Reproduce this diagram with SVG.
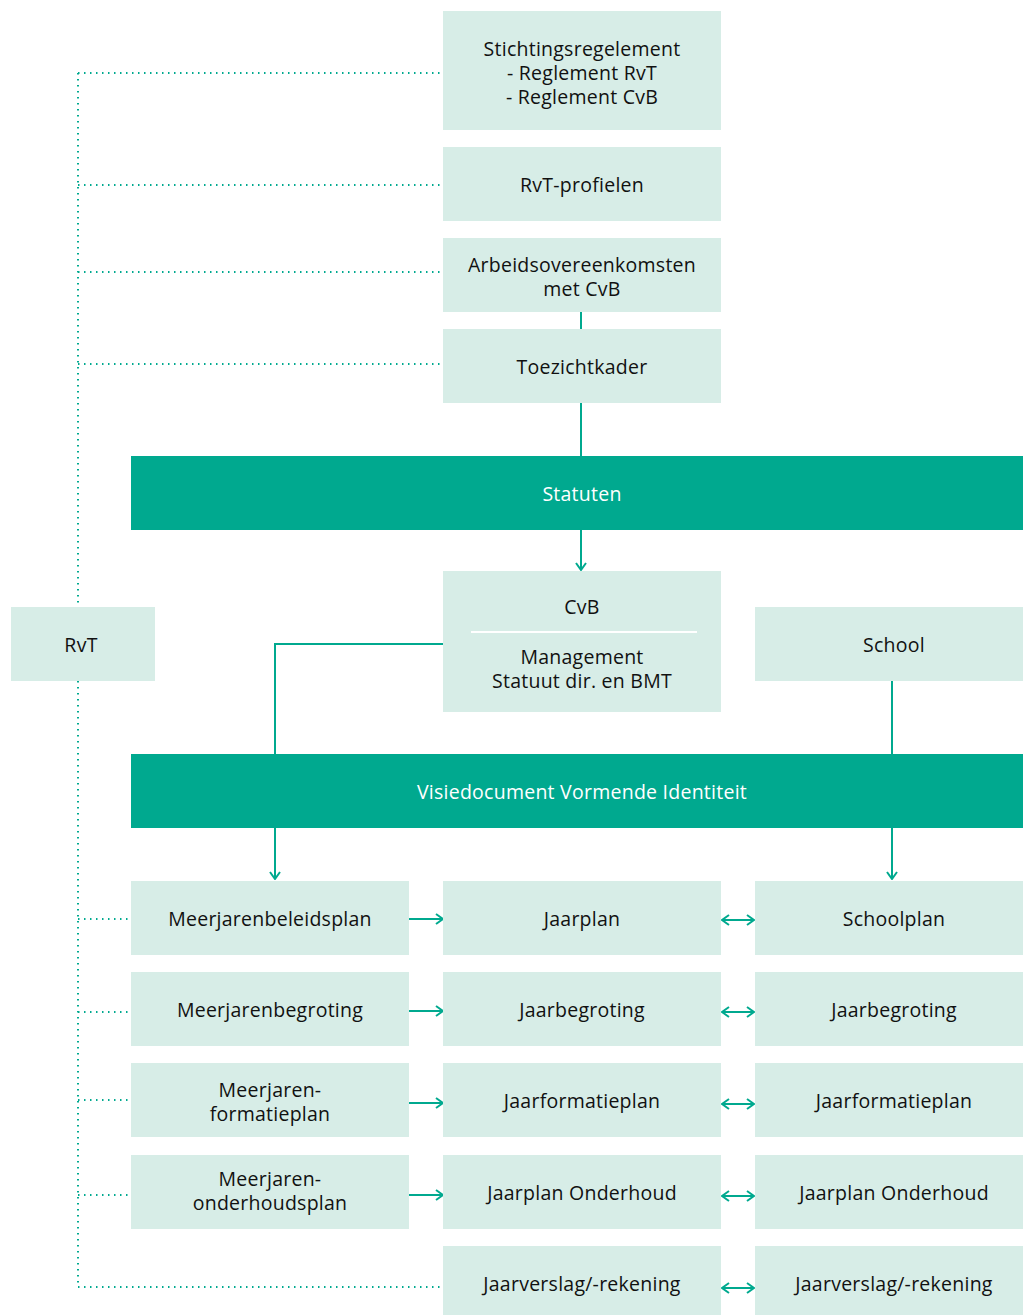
<svg xmlns="http://www.w3.org/2000/svg" width="1023" height="1315" viewBox="0 0 1023 1315">
<defs>
<style>
.box{fill:#d7ede7}
.bar{fill:#00a98f}
text{font-family:"Open Sans",Lato,"Liberation Sans",sans-serif;font-size:19.5px;letter-spacing:0.25px;text-anchor:middle}
.t{fill:#111}
.tw{fill:#fff}
.ln{stroke:#00a98f;stroke-width:2;fill:none}
.dot{stroke:#00a98f;stroke-width:2;fill:none;stroke-dasharray:1.5 4.5}
.ah{stroke:#00a98f;stroke-width:2;fill:none}
</style>
<marker id="arr" viewBox="0 0 10 12" refX="9" refY="6" markerWidth="10" markerHeight="12" markerUnits="userSpaceOnUse" orient="auto-start-reverse">
<path d="M2,1 L9,6 L2,11" class="ah"/>
</marker>
</defs>
<rect width="1023" height="1315" fill="#fff"/>
<g id="connectors">
<path class="dot" d="M78,73 V607 M78,681 V1287 M78,73 H443 M78,185 H443 M78,272 H443 M78,364 H443 M78,919 H131 M78,1012 H131 M78,1100 H131 M78,1195 H131 M78,1287 H443"/>
<path class="ln" d="M581,312 V329 M581,403 V456"/>
<path class="ln" marker-end="url(#arr)" d="M581,530 V570"/>
<path class="ln" d="M443,644 H275 V754"/>
<path class="ln" marker-end="url(#arr)" d="M275,828 V879"/>
<path class="ln" d="M892,681 V754"/>
<path class="ln" marker-end="url(#arr)" d="M892,828 V879"/>
<path class="ln" marker-end="url(#arr)" d="M409,919 H443"/>
<path class="ln" marker-end="url(#arr)" d="M409,1011 H443"/>
<path class="ln" marker-end="url(#arr)" d="M409,1103 H443"/>
<path class="ln" marker-end="url(#arr)" d="M409,1195 H443"/>
<path class="ln" marker-start="url(#arr)" marker-end="url(#arr)" d="M722,920 H754"/>
<path class="ln" marker-start="url(#arr)" marker-end="url(#arr)" d="M722,1012 H754"/>
<path class="ln" marker-start="url(#arr)" marker-end="url(#arr)" d="M722,1104 H754"/>
<path class="ln" marker-start="url(#arr)" marker-end="url(#arr)" d="M722,1196 H754"/>
<path class="ln" marker-start="url(#arr)" marker-end="url(#arr)" d="M722,1288 H754"/>
</g>
<g id="stichtingsregelement"><rect class="box" x="443" y="11" width="278" height="119"/>
<text class="t" x="582" y="56">Stichtingsregelement</text><text class="t" x="582" y="80">- Reglement RvT</text><text class="t" x="582" y="104">- Reglement CvB</text></g>
<g id="rvt-profielen"><rect class="box" x="443" y="147" width="278" height="74"/><text class="t" x="582" y="192">RvT-profielen</text></g>
<g id="arbeidsovereenkomsten"><rect class="box" x="443" y="238" width="278" height="74"/><text class="t" x="582" y="272">Arbeidsovereenkomsten</text><text class="t" x="582" y="296">met CvB</text></g>
<g id="toezichtkader"><rect class="box" x="443" y="329" width="278" height="74"/><text class="t" x="582" y="374">Toezichtkader</text></g>
<g id="statuten"><rect class="bar" x="131" y="456" width="892" height="74"/><text class="tw" x="582" y="501">Statuten</text></g>
<g id="cvb"><rect class="box" x="443" y="571" width="278" height="141"/><text class="t" x="582" y="614">CvB</text>
<line x1="471" y1="632" x2="697" y2="632" stroke="#fff" stroke-width="2"/>
<text class="t" x="582" y="664">Management</text><text class="t" x="582" y="688">Statuut dir. en BMT</text></g>
<g id="rvt"><rect class="box" x="11" y="607" width="144" height="74"/><text class="t" x="81" y="652">RvT</text></g>
<g id="school"><rect class="box" x="755" y="607" width="278" height="74"/><text class="t" x="894" y="652">School</text></g>
<g id="visiedocument"><rect class="bar" x="131" y="754" width="892" height="74"/><text class="tw" x="582" y="799">Visiedocument Vormende Identiteit</text></g>
<g id="meerjarenbeleidsplan"><rect class="box" x="131" y="881" width="278" height="74"/><text class="t" x="270" y="926">Meerjarenbeleidsplan</text></g>
<g id="jaarplan"><rect class="box" x="443" y="881" width="278" height="74"/><text class="t" x="582" y="926">Jaarplan</text></g>
<g id="schoolplan"><rect class="box" x="755" y="881" width="278" height="74"/><text class="t" x="894" y="926">Schoolplan</text></g>
<g id="meerjarenbegroting"><rect class="box" x="131" y="972" width="278" height="74"/><text class="t" x="270" y="1017">Meerjarenbegroting</text></g>
<g id="jaarbegroting"><rect class="box" x="443" y="972" width="278" height="74"/><text class="t" x="582" y="1017">Jaarbegroting</text></g>
<g id="jaarbegroting-school"><rect class="box" x="755" y="972" width="278" height="74"/><text class="t" x="894" y="1017">Jaarbegroting</text></g>
<g id="meerjarenformatieplan"><rect class="box" x="131" y="1063" width="278" height="74"/><text class="t" x="270" y="1097">Meerjaren-</text><text class="t" x="270" y="1121">formatieplan</text></g>
<g id="jaarformatieplan"><rect class="box" x="443" y="1063" width="278" height="74"/><text class="t" x="582" y="1108">Jaarformatieplan</text></g>
<g id="jaarformatieplan-school"><rect class="box" x="755" y="1063" width="278" height="74"/><text class="t" x="894" y="1108">Jaarformatieplan</text></g>
<g id="meerjarenonderhoudsplan"><rect class="box" x="131" y="1155" width="278" height="74"/><text class="t" x="270" y="1186">Meerjaren-</text><text class="t" x="270" y="1210">onderhoudsplan</text></g>
<g id="jaarplan-onderhoud"><rect class="box" x="443" y="1155" width="278" height="74"/><text class="t" x="582" y="1200">Jaarplan Onderhoud</text></g>
<g id="jaarplan-onderhoud-school"><rect class="box" x="755" y="1155" width="278" height="74"/><text class="t" x="894" y="1200">Jaarplan Onderhoud</text></g>
<g id="jaarverslag"><rect class="box" x="443" y="1246" width="278" height="74"/><text class="t" x="582" y="1291">Jaarverslag/-rekening</text></g>
<g id="jaarverslag-school"><rect class="box" x="755" y="1246" width="278" height="74"/><text class="t" x="894" y="1291">Jaarverslag/-rekening</text></g>
</svg>
